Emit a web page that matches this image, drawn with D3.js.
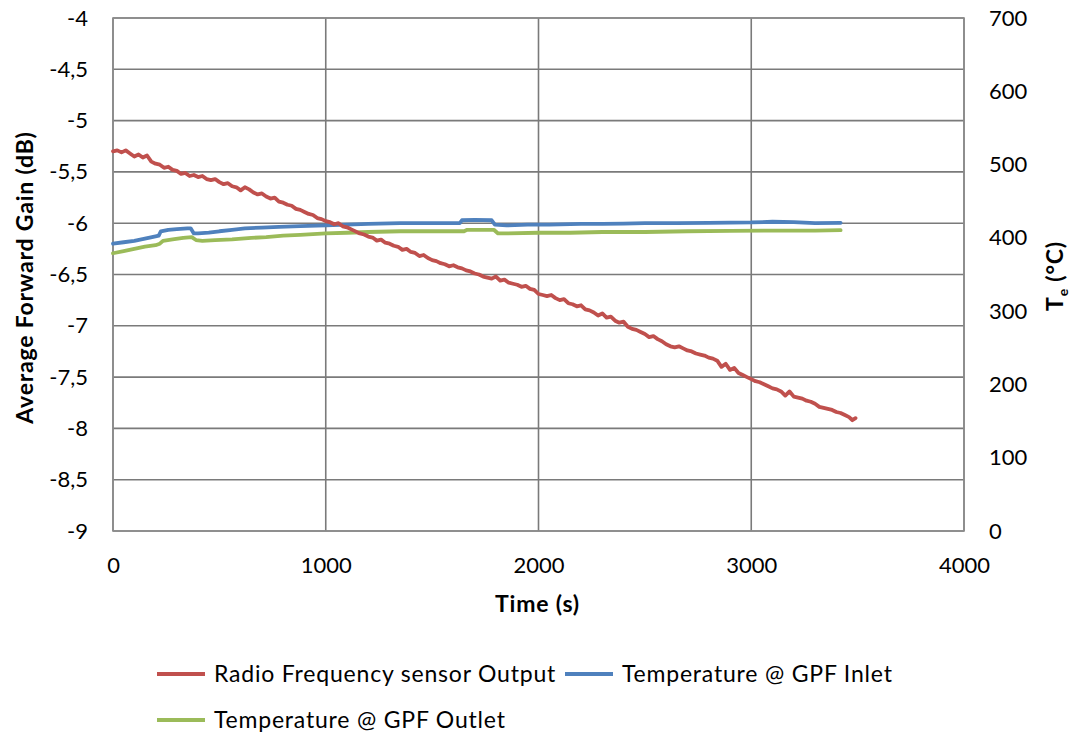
<!DOCTYPE html>
<html>
<head>
<meta charset="utf-8">
<script src="https://cdn.jsdelivr.net/npm/d3@7"></script>
<style>
  html, body { margin: 0; padding: 0; background: #fff; }
  svg text { font-family: Lato, "Open Sans", sans-serif; fill: #000; }
</style>
</head>
<body>
<svg id="chart" width="1075" height="735"></svg>
<script>
// RF sensor output: [time (s), average forward gain (dB)]
const rfOutput = [
  [0,-5.30],[20,-5.29],[40,-5.31],[60,-5.29],[80,-5.32],[100,-5.35],[120,-5.33],[140,-5.36],[160,-5.34],[180,-5.40],
  [200,-5.42],[220,-5.43],[240,-5.46],[260,-5.45],[280,-5.48],[300,-5.49],[320,-5.52],[340,-5.51],[360,-5.54],[380,-5.53],
  [400,-5.55],[420,-5.54],[440,-5.57],[460,-5.58],[480,-5.57],[500,-5.60],[520,-5.62],[540,-5.61],[560,-5.64],[580,-5.65],
  [600,-5.68],[620,-5.65],[640,-5.67],[660,-5.70],[680,-5.72],[700,-5.71],[720,-5.74],[740,-5.76],[760,-5.75],[780,-5.79],
  [800,-5.80],[820,-5.82],[840,-5.83],[860,-5.86],[880,-5.87],[900,-5.89],[920,-5.91],[940,-5.92],[960,-5.95],[980,-5.96],
  [1000,-5.98],[1020,-5.99],[1040,-6.01],[1060,-6.00],[1080,-6.03],[1100,-6.04],[1120,-6.06],[1140,-6.08],[1160,-6.10],[1180,-6.11],
  [1200,-6.13],[1220,-6.14],[1240,-6.17],[1260,-6.16],[1280,-6.19],[1300,-6.20],[1320,-6.22],[1340,-6.23],[1360,-6.26],[1380,-6.25],
  [1400,-6.28],[1420,-6.29],[1440,-6.32],[1460,-6.31],[1480,-6.34],[1500,-6.36],[1520,-6.37],[1540,-6.39],[1560,-6.40],[1580,-6.42],
  [1600,-6.41],[1620,-6.43],[1640,-6.44],[1660,-6.46],[1680,-6.47],[1700,-6.49],[1720,-6.50],[1740,-6.52],[1760,-6.53],[1780,-6.54],
  [1800,-6.52],[1820,-6.56],[1840,-6.55],[1860,-6.58],[1880,-6.59],[1900,-6.60],[1920,-6.62],[1940,-6.61],[1960,-6.64],[1980,-6.65],
  [2000,-6.69],[2020,-6.70],[2040,-6.71],[2060,-6.70],[2080,-6.73],[2100,-6.75],[2120,-6.74],[2140,-6.78],[2160,-6.79],[2180,-6.81],
  [2200,-6.80],[2220,-6.84],[2240,-6.85],[2260,-6.87],[2280,-6.90],[2300,-6.88],[2320,-6.92],[2340,-6.91],[2360,-6.95],[2380,-6.97],
  [2400,-6.96],[2420,-7.01],[2440,-7.03],[2460,-7.04],[2480,-7.06],[2500,-7.08],[2520,-7.11],[2540,-7.10],[2560,-7.13],[2580,-7.15],
  [2600,-7.18],[2620,-7.20],[2640,-7.21],[2660,-7.20],[2680,-7.22],[2700,-7.24],[2720,-7.25],[2740,-7.27],[2760,-7.28],[2780,-7.29],
  [2800,-7.31],[2820,-7.32],[2840,-7.34],[2860,-7.40],[2880,-7.37],[2900,-7.43],[2920,-7.41],[2940,-7.46],[2960,-7.48],[2980,-7.50],
  [3000,-7.52],[3020,-7.54],[3040,-7.55],[3060,-7.57],[3080,-7.59],[3100,-7.61],[3120,-7.62],[3140,-7.64],[3160,-7.68],[3180,-7.64],
  [3200,-7.69],[3220,-7.70],[3240,-7.71],[3260,-7.73],[3280,-7.74],[3300,-7.76],[3320,-7.79],[3340,-7.80],[3360,-7.81],[3380,-7.82],
  [3400,-7.84],[3420,-7.85],[3440,-7.87],[3460,-7.89],[3475,-7.92],[3490,-7.90]
];

// GPF inlet temperature: [time (s), °C]
const tempInlet = [
  [0,392],[50,394],[100,396],[150,399],[200,402],[215,403],[225,409],[260,411],[300,412],[350,413],
  [365,413],[380,406],[400,406],[450,407],[500,409],[560,411],[620,413],[700,414],[780,415],[880,416],
  [1000,417],[1100,418],[1200,419],[1350,420],[1500,420],[1630,420],[1640,424],[1700,424.5],[1780,424],
  [1795,418],[1850,417],[1950,418],[2050,418],[2200,419],[2300,419],[2400,419.5],[2500,420],[2650,420],
  [2800,420.5],[3000,421],[3100,422],[3200,421.5],[3300,420],[3420,420.5]
];

// GPF outlet temperature: [time (s), °C]
const tempOutlet = [
  [0,379],[50,382],[100,385],[150,388],[200,390],[220,392],[235,396],[280,398],[330,400],[370,401],
  [390,397],[420,396],[480,397],[560,398],[650,400],[720,401],[800,403],[880,404],[1000,406],[1100,407],
  [1200,408],[1350,409],[1500,409],[1650,409],[1665,411],[1700,411],[1790,411],[1810,406],[1850,406],
  [2000,407],[2150,407],[2300,408],[2500,408],[2700,409],[2900,409.5],[3100,410],[3300,410],[3420,410.5]
];

const timeTicks = [0, 1000, 2000, 3000, 4000];
const gainTicks = [-4, -4.5, -5, -5.5, -6, -6.5, -7, -7.5, -8, -8.5, -9];
const tempTicks = [0, 100, 200, 300, 400, 500, 600, 700];

const seriesNames = ["Radio Frequency sensor Output", "Temperature @ GPF Inlet", "Temperature @ GPF Outlet"];
const seriesColors = ["#C0504D", "#4F81BD", "#9BBB59"];

const svg = d3.select("#chart");
const plot = { left: 113, right: 964, top: 18, bottom: 531 };

const x = d3.scaleLinear().domain([0, 4000]).range([plot.left, plot.right]);
const yGain = d3.scaleLinear().domain([-9, -4]).range([plot.bottom, plot.top]);
const yTemp = d3.scaleLinear().domain([0, 700]).range([plot.bottom, plot.top]);

const gridColor = "#7a7a7a";
const fmt = d => String(d).replace(".", ",");

// horizontal gridlines
svg.append("g")
  .selectAll("line")
  .data(gainTicks)
  .join("line")
  .attr("x1", plot.left).attr("x2", plot.right)
  .attr("y1", d => yGain(d)).attr("y2", d => yGain(d))
  .attr("stroke", gridColor).attr("stroke-width", 1.6);

// vertical gridlines
svg.append("g")
  .selectAll("line")
  .data(timeTicks)
  .join("line")
  .attr("x1", d => x(d)).attr("x2", d => x(d))
  .attr("y1", plot.top).attr("y2", plot.bottom)
  .attr("stroke", gridColor).attr("stroke-width", 1.6);

// plot frame
svg.append("rect")
  .attr("x", plot.left).attr("y", plot.top)
  .attr("width", plot.right - plot.left).attr("height", plot.bottom - plot.top)
  .attr("fill", "none").attr("stroke", "#8c8c8c").attr("stroke-width", 1.6);

// axes (labels only, lines come from the grid)
const leftAxis = svg.append("g").attr("transform", `translate(${plot.left},0)`)
  .call(d3.axisLeft(yGain).tickValues(gainTicks).tickFormat(fmt).tickSize(0).tickPadding(25));
const rightAxis = svg.append("g").attr("transform", `translate(${plot.right},0)`)
  .call(d3.axisRight(yTemp).tickValues(tempTicks).tickSize(0).tickPadding(25));
const bottomAxis = svg.append("g").attr("transform", `translate(0,${plot.bottom})`)
  .call(d3.axisBottom(x).tickValues(timeTicks).tickFormat(d3.format("d")).tickSize(0).tickPadding(26));
[leftAxis, rightAxis, bottomAxis].forEach(g => {
  g.select(".domain").remove();
  g.selectAll("text").style("font-size", "22px").style("font-family", "Lato, sans-serif");
});

// series lines
const lineGain = d3.line().x(d => x(d[0])).y(d => yGain(d[1]));
const lineTemp = d3.line().x(d => x(d[0])).y(d => yTemp(d[1]));

const drawSeries = (data, line, color) => svg.append("path").datum(data)
  .attr("d", line).attr("fill", "none")
  .attr("stroke", color).attr("stroke-width", 3.8)
  .attr("stroke-linejoin", "round").attr("stroke-linecap", "round");

drawSeries(tempOutlet, lineTemp, seriesColors[2]);
drawSeries(tempInlet, lineTemp, seriesColors[1]);
drawSeries(rfOutput, lineGain, seriesColors[0]);

// axis titles
const titleStyle = sel => sel
  .style("font-size", "23px").style("font-weight", "bold").style("letter-spacing", "0.8px");

svg.append("text")
  .attr("transform", `translate(33,${(plot.top + plot.bottom) / 2 + 3}) rotate(-90)`)
  .attr("text-anchor", "middle")
  .call(titleStyle)
  .text("Average Forward Gain (dB)");

svg.append("text")
  .attr("x", (plot.left + plot.right) / 2 - 1).attr("y", 612)
  .attr("text-anchor", "middle")
  .call(titleStyle)
  .text("Time (s)");

const rTitle = svg.append("text")
  .attr("transform", `translate(1063,276) rotate(-90)`)
  .attr("text-anchor", "middle")
  .call(titleStyle);
rTitle.append("tspan").text("T");
rTitle.append("tspan").attr("dy", 5).style("font-size", "14px").text("e");
rTitle.append("tspan").attr("dy", -5).text(" (°C)");

// legend
const legendItems = [
  { name: seriesNames[0], color: seriesColors[0], x: 157, y: 674 },
  { name: seriesNames[1], color: seriesColors[1], x: 565, y: 674 },
  { name: seriesNames[2], color: seriesColors[2], x: 157, y: 720 }
];
const lg = svg.append("g").selectAll("g").data(legendItems).join("g")
  .attr("transform", d => `translate(${d.x},${d.y})`);
lg.append("line").attr("x1", 0).attr("x2", 48).attr("y1", 0).attr("y2", 0)
  .attr("stroke", d => d.color).attr("stroke-width", 3.8);
lg.append("text").attr("x", 57).attr("y", 8)
  .style("font-size", "23px").style("letter-spacing", "0.8px")
  .text(d => d.name);
</script>
</body>
</html>
